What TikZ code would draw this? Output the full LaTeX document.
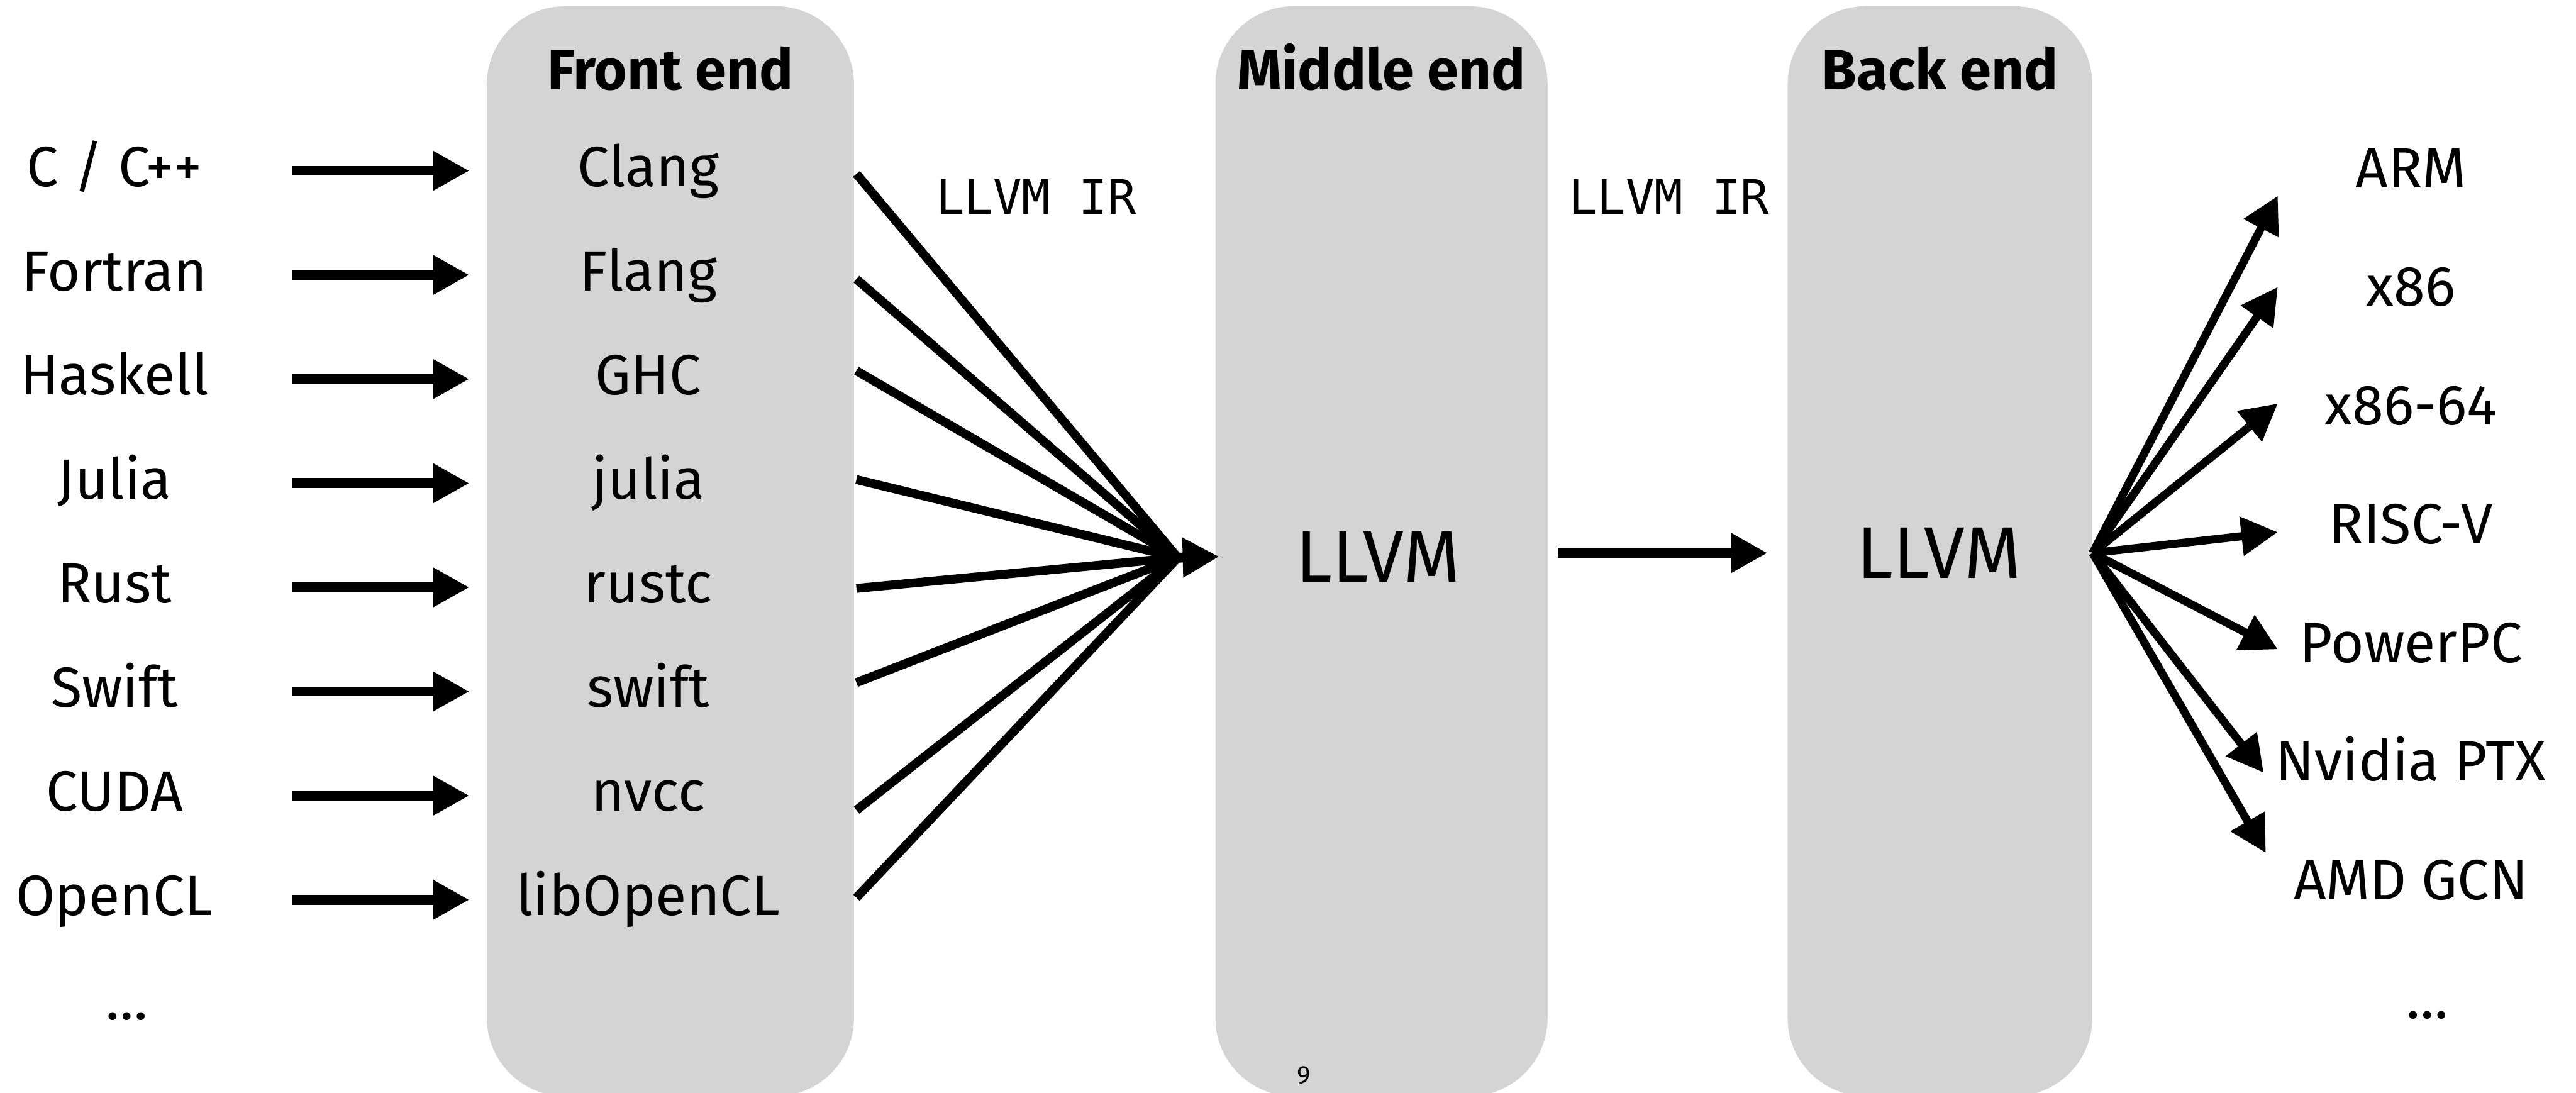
\documentclass[tikz,border=0pt]{standalone}
\usepackage{fontspec}
\setmainfont{Fira Sans}
\setmonofont{DejaVu Sans Mono}
\usepackage{tikz}
\usetikzlibrary{arrows.meta}
\definecolor{stagegray}{RGB}{212,212,212}

\begin{document}
\begin{tikzpicture}[
  font=\fontsize{31}{31}\selectfont,
  stage/.style={fill=stagegray, rounded corners=1.5cm, minimum height=20.93cm, inner sep=0pt},
  stagehead/.style={font=\fontsize{31}{31}\selectfont\bfseries, anchor=base, inner sep=0pt},
  lang/.style={text height=0.8cm, text depth=0.2cm, inner sep=0pt, minimum width=6.8cm},
  tool/.style={lang, minimum width=6.86cm},
  target/.style={lang, minimum width=5.1cm},
  core/.style={font=\fontsize{40}{40}\selectfont, text height=0.97cm, text depth=0pt, inner sep=0pt, minimum width=6.08cm},
  ir/.style={font=\ttfamily\fontsize{26}{26}\selectfont, inner sep=0pt},
  arr/.style={-{Triangle[length=0.7cm,width=0.72cm]}, line width=0.19cm},
  fan/.style={line width=0.17cm},
  emit/.style={arr, line width=0.155cm}
]
\useasboundingbox (0,0) rectangle (49.47,-20.99);

% the three stages
\node[stage, minimum width=7.05cm] (front) at (12.875,-10.585) {};
\node[stage, minimum width=6.38cm] (middle) at (26.53,-10.585) {};
\node[stage, minimum width=5.85cm] (back) at (37.255,-10.585) {};
\node[stagehead] at (front.north |- 0,-1.72) {Front end};
\node[stagehead] at (middle.north |- 0,-1.72) {Middle end};
\node[stagehead] at (back.north |- 0,-1.72) {Back end};

% source languages
\node[lang] (cpp) at (2.20,-3.28) {C / C++};
\node[lang] (fortran) at (2.20,-5.28) {Fortran};
\node[lang] (haskell) at (2.20,-7.28) {Haskell};
\node[lang] (julia) at (2.20,-9.28) {Julia};
\node[lang] (rust) at (2.20,-11.28) {Rust};
\node[lang] (swift) at (2.20,-13.28) {Swift};
\node[lang] (cuda) at (2.20,-15.28) {CUDA};
\node[lang] (opencl) at (2.20,-17.28) {OpenCL};
\node[lang] (langmore) at (2.44,-19.28) {…};

% front ends
\node[tool] (cclang) at (12.45,-3.28) {Clang};
\node[tool] (cflang) at (12.45,-5.28) {Flang};
\node[tool] (cghc) at (12.45,-7.28) {GHC};
\node[tool] (cjulia) at (12.45,-9.28) {julia};
\node[tool] (crustc) at (12.45,-11.28) {rustc};
\node[tool] (cswift) at (12.45,-13.28) {swift};
\node[tool] (cnvcc) at (12.45,-15.28) {nvcc};
\node[tool] (cocl) at (12.45,-17.28) {libOpenCL};

\draw[arr] (cpp.east) -- (cclang.west);
\draw[arr] (fortran.east) -- (cflang.west);
\draw[arr] (haskell.east) -- (cghc.west);
\draw[arr] (julia.east) -- (cjulia.west);
\draw[arr] (rust.east) -- (crustc.west);
\draw[arr] (swift.east) -- (cswift.west);
\draw[arr] (cuda.east) -- (cnvcc.west);
\draw[arr] (opencl.east) -- (cocl.west);

% optimiser and code generator
\node[core] (mid) at (26.46,-10.69) {LLVM};
\node[core, minimum width=6.58cm] (bck) at (37.24,-10.62) {LLVM};
\node[ir] (irfront) at (19.90,-3.78) {LLVM IR};
\node[ir] (irback) at (32.05,-3.78) {LLVM IR};

\coordinate (merge) at (22.62,-10.71);
\draw[fan] ([xshift=0.56cm,yshift=-0.06cm]cclang.east) -- (merge);
\draw[fan] ([xshift=0.56cm,yshift=-0.08cm]cflang.east) -- (merge);
\draw[fan] ([xshift=0.56cm,yshift=0.16cm]cghc.east) -- (merge);
\draw[fan] ([xshift=0.56cm,yshift=0.07cm]cjulia.east) -- (merge);
\draw[fan] ([xshift=0.56cm,yshift=-0.02cm]crustc.east) -- (merge);
\draw[fan] ([xshift=0.56cm,yshift=0.17cm]cswift.east) -- (merge);
\draw[fan] ([xshift=0.56cm,yshift=-0.28cm]cnvcc.east) -- (merge);
\draw[fan] ([xshift=0.56cm,yshift=0.04cm]cocl.east) -- (merge);
\draw[arr] (merge) -- (mid.west);
\draw[arr, shorten <=0.41cm] (mid.east |- bck.west) -- (bck.west);

% targets
\node[target] (arm) at (46.30,-3.30) {ARM};
\node[target] (x86) at (46.30,-5.58) {x86};
\node[target] (x64) at (46.30,-7.86) {x86-64};
\node[target] (riscv) at (46.30,-10.14) {RISC-V};
\node[target] (ppc) at (46.30,-12.42) {PowerPC};
\node[target] (ptx) at (46.30,-14.70) {Nvidia PTX};
\node[target] (gcn) at (46.30,-16.98) {AMD GCN};
\node[target] (targetmore) at (46.62,-19.26) {…};

\coordinate (split) at (back.east |- bck.center);
\draw[emit] (split) -- ([yshift=-0.46cm]arm.west);
\draw[emit] (split) -- ([yshift=0.07cm]x86.west);
\draw[emit] (split) -- ([yshift=0.11cm]x64.west);
\draw[emit] (split) -- ([yshift=-0.08cm]riscv.west);
\draw[emit] (split) -- ([yshift=-0.05cm]ppc.west);
\draw[emit] (split) -- ([xshift=-0.23cm,yshift=-0.14cm]ptx.west);
\draw[emit] (split) -- ([xshift=-0.23cm,yshift=0.60cm]gcn.west);

\node[font=\fontsize{14}{14}\selectfont] (pageno) at (25.04,-20.65) {9};
\end{tikzpicture}
\end{document}
